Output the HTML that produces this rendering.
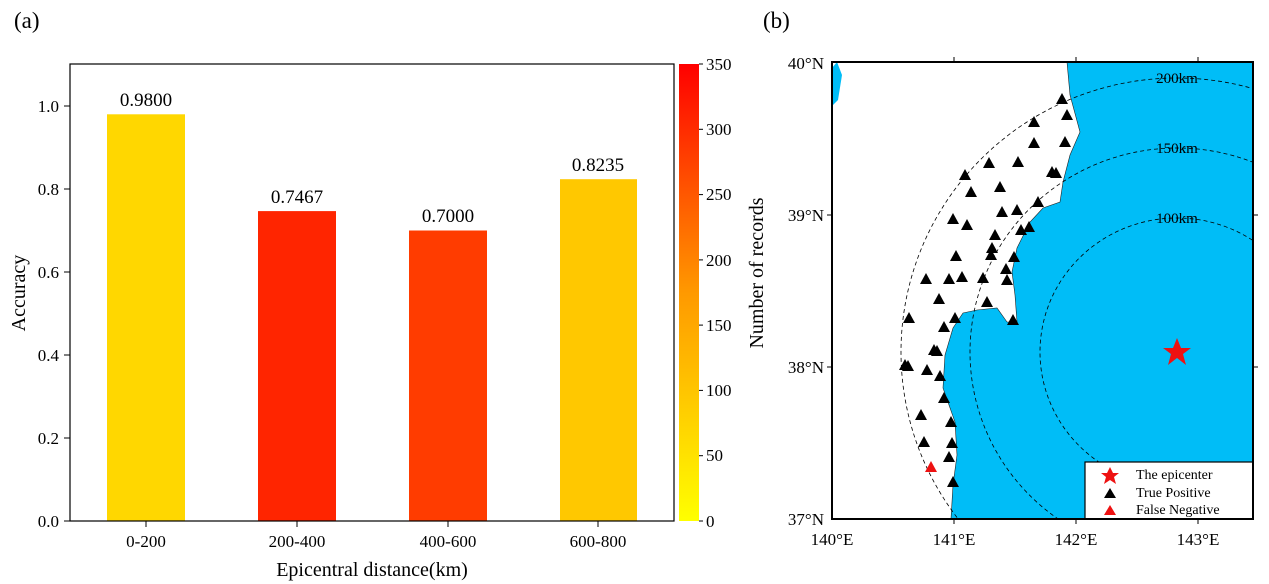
<!DOCTYPE html>
<html><head><meta charset="utf-8"><style>
html,body{margin:0;padding:0;background:#fff;width:1269px;height:584px;overflow:hidden;}
svg{display:block;font-family:"Liberation Serif",serif;}
</style></head><body>
<svg width="1269" height="584" viewBox="0 0 1269 584" xmlns="http://www.w3.org/2000/svg">
<defs>
<linearGradient id="cb" x1="0" y1="1" x2="0" y2="0">
<stop offset="0" stop-color="#ffff00"/><stop offset="0.5" stop-color="#ff9900"/><stop offset="1" stop-color="#ff0000"/>
</linearGradient>
<clipPath id="mc"><rect x="832" y="62" width="421" height="457"/></clipPath>
<symbol id="tri" viewBox="-6 -6 12 12"><polygon points="-6,5 6,5 0,-6"/></symbol>
</defs>
<text x="14" y="28" font-size="23">(a)</text>
<text x="763" y="28" font-size="23">(b)</text>
<!-- panel a -->
<rect x="107" y="114.3" width="78" height="406.7" fill="#ffd700"/>
<rect x="258" y="211.1" width="78" height="309.9" fill="#ff2500"/>
<rect x="409" y="230.5" width="78" height="290.5" fill="#ff3c00"/>
<rect x="560" y="179.2" width="77" height="341.8" fill="#ffc800"/>
<g font-size="19" text-anchor="middle">
<text x="146" y="106">0.9800</text><text x="297" y="203">0.7467</text>
<text x="448" y="222">0.7000</text><text x="598" y="171">0.8235</text>
</g>
<rect x="70" y="64" width="604" height="457" fill="none" stroke="#000" stroke-width="1.2"/>
<g stroke="#000" stroke-width="1">
<line x1="64" y1="521" x2="70" y2="521"/><line x1="64" y1="438" x2="70" y2="438"/><line x1="64" y1="355" x2="70" y2="355"/><line x1="64" y1="272" x2="70" y2="272"/><line x1="64" y1="189" x2="70" y2="189"/><line x1="64" y1="106" x2="70" y2="106"/>
<line x1="146" y1="521" x2="146" y2="527"/><line x1="297" y1="521" x2="297" y2="527"/><line x1="448" y1="521" x2="448" y2="527"/><line x1="598" y1="521" x2="598" y2="527"/>
</g>
<g font-size="17" text-anchor="end">
<text x="59" y="527">0.0</text><text x="59" y="444">0.2</text><text x="59" y="361">0.4</text><text x="59" y="278">0.6</text><text x="59" y="195">0.8</text><text x="59" y="112">1.0</text>
</g>
<g font-size="17" text-anchor="middle">
<text x="146" y="547">0-200</text><text x="297" y="547">200-400</text><text x="448" y="547">400-600</text><text x="598" y="547">600-800</text>
</g>
<text x="372" y="576" font-size="20" text-anchor="middle">Epicentral distance(km)</text>
<text transform="translate(25,293) rotate(-90)" font-size="20" text-anchor="middle">Accuracy</text>
<rect x="679" y="64" width="20" height="457" fill="url(#cb)"/>
<g stroke="#000" stroke-width="1">
<line x1="699" y1="521" x2="703" y2="521"/><line x1="699" y1="455.7" x2="703" y2="455.7"/><line x1="699" y1="390.4" x2="703" y2="390.4"/><line x1="699" y1="325.1" x2="703" y2="325.1"/><line x1="699" y1="259.9" x2="703" y2="259.9"/><line x1="699" y1="194.6" x2="703" y2="194.6"/><line x1="699" y1="129.3" x2="703" y2="129.3"/><line x1="699" y1="64" x2="703" y2="64"/>
</g>
<g font-size="17">
<text x="706" y="527">0</text><text x="706" y="461">50</text><text x="706" y="396">100</text><text x="706" y="331">150</text><text x="706" y="266">200</text><text x="706" y="200">250</text><text x="706" y="135">300</text><text x="706" y="70">350</text>
</g>
<text transform="translate(763,273) rotate(-90)" font-size="20" text-anchor="middle">Number of records</text>
<!-- panel b -->
<g clip-path="url(#mc)">
<rect x="832" y="62" width="421" height="457" fill="#00bdf7"/>
<polygon fill="#fff" stroke="#222" stroke-width="0.6" points="832,62 1067,62 1070,95 1080,132 1070,155 1063,182 1060,202 1043,208 1030,222 1017,248 1012,272 1015,295 1017,322 1007,322 997,308 977,310 963,313 953,328 945,355 943,388 955,422 957,455 953,485 951,519 832,519"/>
<polygon fill="#00bdf7" points="832,68 837,62 842,75 838,100 833,105 832,104"/>
<g fill="none" stroke="#000" stroke-width="0.8" stroke-dasharray="4,3">
<ellipse cx="1177" cy="352" rx="137" ry="134"/>
<ellipse cx="1177" cy="352" rx="207" ry="204"/>
<ellipse cx="1177" cy="352" rx="276" ry="274"/>
</g>
<g font-size="15" text-anchor="middle">
<text x="1177" y="83">200km</text><text x="1177" y="153">150km</text><text x="1177" y="223">100km</text>
</g>
<g fill="#000">
<use href="#tri" x="1056" y="93" width="12" height="12"/><use href="#tri" x="1061" y="109" width="12" height="12"/><use href="#tri" x="1028" y="116" width="12" height="12"/><use href="#tri" x="1059" y="136" width="12" height="12"/><use href="#tri" x="1028" y="137" width="12" height="12"/><use href="#tri" x="983" y="157" width="12" height="12"/><use href="#tri" x="1012" y="156" width="12" height="12"/><use href="#tri" x="1046" y="166" width="12" height="12"/><use href="#tri" x="1050" y="167" width="12" height="12"/><use href="#tri" x="959" y="169" width="12" height="12"/><use href="#tri" x="994" y="181" width="12" height="12"/><use href="#tri" x="965" y="186" width="12" height="12"/><use href="#tri" x="1032" y="196" width="12" height="12"/><use href="#tri" x="996" y="206" width="12" height="12"/><use href="#tri" x="1011" y="204" width="12" height="12"/><use href="#tri" x="947" y="213" width="12" height="12"/><use href="#tri" x="961" y="219" width="12" height="12"/><use href="#tri" x="1023" y="221" width="12" height="12"/><use href="#tri" x="1015" y="224" width="12" height="12"/><use href="#tri" x="989" y="229" width="12" height="12"/><use href="#tri" x="986" y="242" width="12" height="12"/><use href="#tri" x="985" y="249" width="12" height="12"/><use href="#tri" x="1008" y="251" width="12" height="12"/><use href="#tri" x="950" y="250" width="12" height="12"/><use href="#tri" x="1000" y="263" width="12" height="12"/><use href="#tri" x="1001" y="274" width="12" height="12"/><use href="#tri" x="977" y="272" width="12" height="12"/><use href="#tri" x="920" y="273" width="12" height="12"/><use href="#tri" x="943" y="273" width="12" height="12"/><use href="#tri" x="956" y="271" width="12" height="12"/><use href="#tri" x="933" y="293" width="12" height="12"/><use href="#tri" x="981" y="296" width="12" height="12"/><use href="#tri" x="1007" y="314" width="12" height="12"/><use href="#tri" x="903" y="312" width="12" height="12"/><use href="#tri" x="949" y="312" width="12" height="12"/><use href="#tri" x="938" y="321" width="12" height="12"/><use href="#tri" x="928" y="344" width="12" height="12"/><use href="#tri" x="931" y="345" width="12" height="12"/><use href="#tri" x="899" y="359" width="12" height="12"/><use href="#tri" x="902" y="360" width="12" height="12"/><use href="#tri" x="921" y="364" width="12" height="12"/><use href="#tri" x="934" y="370" width="12" height="12"/><use href="#tri" x="938" y="392" width="12" height="12"/><use href="#tri" x="915" y="409" width="12" height="12"/><use href="#tri" x="945" y="416" width="12" height="12"/><use href="#tri" x="918" y="436" width="12" height="12"/><use href="#tri" x="946" y="437" width="12" height="12"/><use href="#tri" x="943" y="451" width="12" height="12"/><use href="#tri" x="947" y="476" width="12" height="12"/>
</g>
<use href="#tri" x="925" y="461" width="12" height="12" fill="#ee1111"/>
<polygon fill="#ee1111" points="1177,338 1181,348 1191,348 1183,354 1186,365 1177,358 1168,365 1171,354 1163,348 1173,348"/>
<rect x="1085" y="462" width="168" height="57" fill="#fff" stroke="#000" stroke-width="1.2"/>
<polygon fill="#ee1111" points="1110,467 1113,473 1119,473 1114,477 1116,484 1110,480 1104,484 1106,477 1101,473 1107,473"/>
<polygon fill="#000" points="1104,498 1116,498 1110,488"/>
<polygon fill="#ee1111" points="1104,515 1116,515 1110,505"/>
<g font-size="14"><text x="1136" y="479">The epicenter</text><text x="1136" y="497">True Positive</text><text x="1136" y="514">False Negative</text></g>
</g>
<rect x="832" y="62" width="421" height="457" fill="none" stroke="#000" stroke-width="2"/>
<g stroke="#000" stroke-width="1">
<line x1="954" y1="57" x2="954" y2="62"/><line x1="1076" y1="57" x2="1076" y2="62"/><line x1="1198" y1="57" x2="1198" y2="62"/>
<line x1="954" y1="519" x2="954" y2="524"/><line x1="1076" y1="519" x2="1076" y2="524"/><line x1="1198" y1="519" x2="1198" y2="524"/>
<line x1="827" y1="215" x2="832" y2="215"/><line x1="827" y1="367" x2="832" y2="367"/>
<line x1="1253" y1="215" x2="1258" y2="215"/><line x1="1253" y1="367" x2="1258" y2="367"/>
</g>
<g font-size="17" text-anchor="end">
<text x="824" y="69">40°N</text><text x="824" y="221">39°N</text><text x="824" y="373">38°N</text><text x="824" y="525">37°N</text>
</g>
<g font-size="17" text-anchor="middle">
<text x="832" y="545">140°E</text><text x="954" y="545">141°E</text><text x="1076" y="545">142°E</text><text x="1198" y="545">143°E</text>
</g>
</svg>
</body></html>
